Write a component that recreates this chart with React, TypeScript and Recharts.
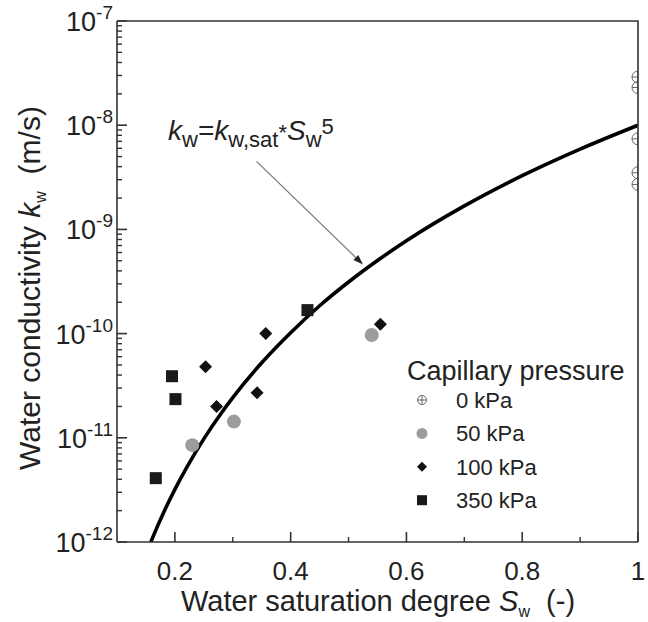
import React from 'react';
import { ComposedChart, Line, Scatter, XAxis, YAxis, ReferenceLine } from 'recharts';

// fitted curve k_w = k_w,sat * S_w^5
const curveS = [0.1585, 0.17, 0.18, 0.2, 0.22, 0.25, 0.28, 0.3, 0.35, 0.4, 0.45, 0.5, 0.55, 0.6, 0.7, 0.8, 0.9, 1.0];
const curveK = [1.0e-12, 1.42e-12, 1.89e-12, 3.2e-12, 5.15e-12, 9.77e-12, 1.72e-11, 2.43e-11, 5.25e-11, 1.02e-10, 1.85e-10, 3.13e-10, 5.03e-10, 7.78e-10, 1.68e-9, 3.28e-9, 5.9e-9, 1.0e-8];

// measured points per capillary pressure
const p0S = [1, 1, 1, 1, 1];
const p0K = [2.9e-8, 2.3e-8, 7.4e-9, 3.5e-9, 2.7e-9];
const p50S = [0.23, 0.302, 0.54];
const p50K = [8.5e-12, 1.43e-11, 9.7e-11];
const p100S = [0.253, 0.272, 0.342, 0.357, 0.555];
const p100K = [4.8e-11, 2.0e-11, 2.7e-11, 1.0e-10, 1.23e-10];
const p350S = [0.167, 0.195, 0.201, 0.429];
const p350K = [4.1e-12, 3.9e-11, 2.35e-11, 1.68e-10];

const xMajor = [0.2, 0.4, 0.6, 0.8, 1];
const xMinor = [0.3, 0.5, 0.7, 0.9];
const decades = [-12, -11, -10, -9, -8, -7];
const mantissas = [2, 3, 4, 5, 6, 7, 8, 9];

const legendNames = ['0 kPa', '50 kPa', '100 kPa', '350 kPa'];

const X_MIN = 0.1;
const X_MAX = 1;
const Y_MIN = 1e-12;
const Y_MAX = 1e-7;

// arrow from the equation to the curve
const arrowFrom = { x: 0.341, y: 4.5e-9 };
const arrowTo = { x: 0.525, y: 4.6e-10 };

const yMajor = decades.map((e) => Math.pow(10, e));
const yMinor: number[] = [];
decades.slice(0, -1).forEach((e) => mantissas.forEach((m) => yMinor.push(m * Math.pow(10, e))));

const toRows = (xs: number[], ys: number[]) => xs.map((x, i) => ({ x, y: ys[i] }));

// chart geometry (margins + axis sizes below give this plot box)
const W = 648;
const H = 622;
const M = { top: 21, right: 10 };
const Y_AXIS_W = 117;
const X_AXIS_H = 80;
const box = { left: Y_AXIS_W, top: M.top, right: W - M.right, bottom: H - X_AXIS_H };
const px = (v: number) => box.left + ((v - X_MIN) / (X_MAX - X_MIN)) * (box.right - box.left);
const py = (v: number) =>
  box.top + ((Math.log10(Y_MAX) - Math.log10(v)) / (Math.log10(Y_MAX) - Math.log10(Y_MIN))) * (box.bottom - box.top);

const FONT = '"Liberation Sans", Arial, sans-serif';
const INK = '#222';
const AXIS = '#333333';

const CrossCircle = ({ cx, cy, r = 6 }: any) => (
  <g>
    <circle cx={cx} cy={cy} r={r} fill="none" stroke="#666" strokeWidth={1} />
    <line x1={cx - r} x2={cx + r} y1={cy} y2={cy} stroke="#666" strokeWidth={1} />
    <line x1={cx} x2={cx} y1={cy - r} y2={cy + r} stroke="#666" strokeWidth={1} />
  </g>
);
const GrayDot = ({ cx, cy, r = 7 }: any) => <circle cx={cx} cy={cy} r={r} fill="#9c9c9c" />;
const Diamond = ({ cx, cy, r = 6.5 }: any) => (
  <polygon points={`${cx},${cy - r} ${cx + r},${cy} ${cx},${cy + r} ${cx - r},${cy}`} fill="#111" />
);
const Square = ({ cx, cy, r = 6 }: any) => <rect x={cx - r} y={cy - r} width={2 * r} height={2 * r} fill="#1a1a1a" />;

const XLabel = (props: any) => (
  <text x={props.x} y={Number(props.y) + 38} textAnchor="middle" fontSize={26} fontFamily={FONT} fill={INK}>
    {String(props.payload.value)}
  </text>
);

const YLabel = (props: any) => {
  const e = Math.round(Math.log10(props.payload.value));
  return (
    <text x={Number(props.x) - 4} y={Number(props.y) + 10} textAnchor="end" fontSize={27} fontFamily={FONT} fill={INK}>
      10
      <tspan fontSize={19} dy={-12}>{String(e)}</tspan>
    </text>
  );
};

const Arrow = (props: any) => {
  const { x1, y1, x2, y2 } = props;
  const ang = Math.atan2(y2 - y1, x2 - x1);
  const len = 10;
  const w = 3.5;
  const bx = x2 - len * Math.cos(ang);
  const by = y2 - len * Math.sin(ang);
  const ox = -Math.sin(ang) * w;
  const oy = Math.cos(ang) * w;
  return (
    <g>
      <line x1={x1} y1={y1} x2={bx} y2={by} stroke="#777" strokeWidth={1.2} />
      <polygon points={`${x2},${y2} ${bx + ox},${by + oy} ${bx - ox},${by - oy}`} fill="#222" />
    </g>
  );
};

export default function App() {
  const curve = toRows(curveS, curveK);
  const legendShapes = [CrossCircle, GrayDot, Diamond, Square];
  const legendR = [4.5, 5.5, 5, 5];

  return (
    <div style={{ position: 'absolute', left: 0, top: 0, width: W, height: H, background: '#fff' }}>
      <ComposedChart width={W} height={H} margin={{ top: M.top, right: M.right, bottom: 0, left: 0 }}>
        <XAxis
          dataKey="x"
          type="number"
          domain={[X_MIN, X_MAX]}
          ticks={xMajor}
          allowDataOverflow
          height={X_AXIS_H}
          tickLine={false}
          tickSize={0}
          tickMargin={0}
          tick={<XLabel />}
          interval={0}
          axisLine={{ stroke: AXIS, strokeWidth: 1.6 }}
        />
        <YAxis
          dataKey="y"
          type="number"
          scale="log"
          domain={[Y_MIN, Y_MAX]}
          ticks={yMajor}
          allowDataOverflow
          width={Y_AXIS_W}
          tickLine={false}
          tickSize={0}
          tickMargin={0}
          tick={<YLabel />}
          interval={0}
          axisLine={{ stroke: AXIS, strokeWidth: 1.6 }}
        />
        <Scatter data={toRows(p0S, p0K)} shape={(p: any) => <CrossCircle cx={p.cx} cy={p.cy} />} isAnimationActive={false} />
        <Scatter data={toRows(p50S, p50K)} shape={(p: any) => <GrayDot cx={p.cx} cy={p.cy} />} isAnimationActive={false} />
        <Scatter data={toRows(p100S, p100K)} shape={(p: any) => <Diamond cx={p.cx} cy={p.cy} />} isAnimationActive={false} />
        <Scatter data={toRows(p350S, p350K)} shape={(p: any) => <Square cx={p.cx} cy={p.cy} />} isAnimationActive={false} />
        <Line
          data={curve}
          dataKey="y"
          type="monotone"
          stroke="#000"
          strokeWidth={3.6}
          dot={false}
          activeDot={false}
          isAnimationActive={false}
        />
        <ReferenceLine segment={[arrowFrom, arrowTo]} shape={<Arrow />} ifOverflow="visible" />
      </ComposedChart>

      <svg width={W} height={H} style={{ position: 'absolute', left: 0, top: 0, pointerEvents: 'none' }}>
        {/* frame and inward ticks */}
        <path d={`M${box.left},${box.top}H${box.right}V${box.bottom}`} stroke={AXIS} strokeWidth={1.6} fill="none" />
        {yMajor.map((v) => (
          <rect key={`ym${v}`} x={box.left} y={py(v) - 0.8} width={10} height={1.6} fill={AXIS} />
        ))}
        {yMinor.map((v) => (
          <rect key={`yn${v}`} x={box.left} y={py(v) - 0.7} width={5} height={1.4} fill={AXIS} />
        ))}
        {xMajor.map((v) => (
          <rect key={`xm${v}`} x={px(v) - 0.8} y={box.bottom - 10} width={1.6} height={10} fill={AXIS} />
        ))}
        {xMinor.map((v) => (
          <rect key={`xn${v}`} x={px(v) - 0.7} y={box.bottom - 5} width={1.4} height={5} fill={AXIS} />
        ))}

        <g fontFamily={FONT} fill={INK}>
          {/* equation */}
          <text x={168} y={140} fontSize={28}>
            <tspan fontStyle="italic">k</tspan>
            <tspan fontSize={22} dy={7}>w</tspan>
            <tspan dy={-7}>=</tspan>
            <tspan fontStyle="italic">k</tspan>
            <tspan fontSize={22} dy={7}>w,sat</tspan>
            <tspan fontSize={22} dy={-7}>*</tspan>
            <tspan fontStyle="italic">S</tspan>
            <tspan fontSize={22} dy={7}>w</tspan>
            <tspan fontSize={22} dy={-13}>5</tspan>
          </text>

          {/* axis titles */}
          <text x={378} y={611} fontSize={29} textAnchor="middle">
            Water saturation degree <tspan fontStyle="italic">S</tspan>
            <tspan fontSize={16} dy={6}>w</tspan>
            <tspan dy={-6}>{'\u00a0 (-)'}</tspan>
          </text>
          <text transform="translate(40,288) rotate(-90)" fontSize={30} textAnchor="middle">
            Water conductivity <tspan fontStyle="italic">k</tspan>
            <tspan fontSize={16} dy={6}>w</tspan>
            <tspan dy={-6}>{'\u00a0 (m/s)'}</tspan>
          </text>

          {/* legend */}
          <text x={407} y={380} fontSize={27}>Capillary pressure</text>
          {legendNames.map((name, i) => {
            const cy = 400 + i * 33.4;
            const Shape = legendShapes[i];
            return (
              <g key={name}>
                <Shape cx={422} cy={cy} r={legendR[i]} />
                <text x={456} y={cy + 8} fontSize={22}>{name}</text>
              </g>
            );
          })}
        </g>
      </svg>
    </div>
  );
}
